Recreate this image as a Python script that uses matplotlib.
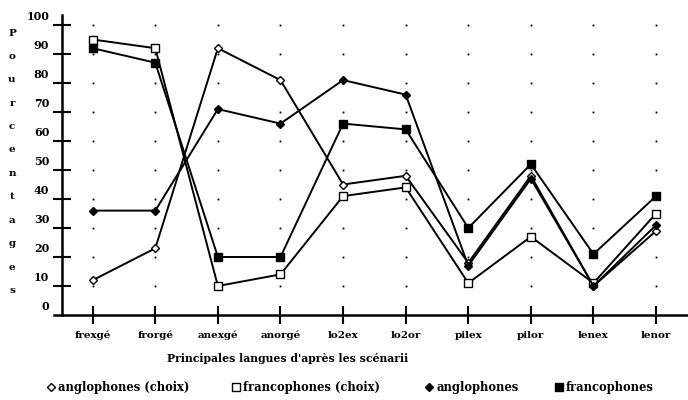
import matplotlib
matplotlib.use("Agg")
import matplotlib.pyplot as plt
import matplotlib.transforms as mtransforms
from matplotlib.lines import Line2D

# Données
categories = ["frexgé", "frorgé", "anexgé", "anorgé", "lo2ex",
              "lo2or", "pilex", "pilor", "lenex", "lenor"]
anglo_choix = [12, 23, 92, 81, 45, 48, 18, 48, 10, 29]
franco_choix = [95, 92, 10, 14, 41, 44, 11, 27, 11, 35]
anglo = [36, 36, 71, 66, 81, 76, 17, 47, 10, 31]
franco = [92, 87, 20, 20, 66, 64, 30, 52, 21, 41]
yticks = [10, 20, 30, 40, 50, 60, 70, 80, 90, 100]
ylabel_letters = list("Pourcentages")
xlabel = "Principales langues d'après les scénarii"
legend_labels = ["anglophones (choix)", "francophones (choix)", "anglophones", "francophones"]

plt.rcParams["font.family"] = "DejaVu Serif"
plt.rcParams["font.weight"] = "bold"

W, H = 688, 400
fig = plt.figure(figsize=(W / 100, H / 100), dpi=100)
ax = fig.add_axes([54 / W, (H - 315) / H, (W - 54) / W, 300 / H])

x = list(range(len(categories)))
ax.set_xlim(-0.618, 9.51)
ax.set_ylim(0, 103.45)

# points de grille
for xi in x:
    ax.plot([xi] * len(yticks), yticks, ls="none", marker="s", ms=1.3,
            color="black", mec="none", zorder=1)

style = dict(color="black", lw=1.4, zorder=3)
ax.plot(x, anglo_choix, marker="D", ms=4.5, mfc="white", mec="black", mew=1, **style)
ax.plot(x, franco_choix, marker="s", ms=5.5, mfc="white", mec="black", mew=1, **style)
ax.plot(x, anglo, marker="D", ms=4.5, mfc="black", mec="black", **style)
ax.plot(x, franco, marker="s", ms=6, mfc="black", mec="black", **style)

for s in ["top", "right"]:
    ax.spines[s].set_visible(False)
ax.spines["left"].set_position(("data", -0.495))
ax.spines["left"].set_linewidth(1.8)
ax.spines["bottom"].set_linewidth(1.8)

ax.set_xticks(x)
ax.set_xticklabels(categories, fontsize=7.5, fontweight="bold")
ax.tick_params(axis="x", direction="inout", length=13, width=1.5, pad=5)
ax.set_yticks([0] + yticks)
ax.set_yticklabels([str(v) for v in [0] + yticks], fontsize=8, fontweight="bold")
ax.tick_params(axis="y", direction="inout", length=13, width=1.5, pad=2.5)
ax.yaxis.get_major_ticks()[0].tick1line.set_visible(False)
offset = mtransforms.ScaledTranslation(0, 10 / 100, fig.dpi_scale_trans)
for lab in ax.get_yticklabels():
    lab.set_transform(lab.get_transform() + offset)

# titre vertical lettre par lettre
for i, ch in enumerate(ylabel_letters):
    fig.text(12 / W, 1 - (33 + i * 23.4) / H, ch, fontsize=7.5, fontweight="bold",
             ha="center", va="center")

fig.text(288 / W, 1 - 359 / H, xlabel, fontsize=7.8, fontweight="bold",
         ha="center", va="center")

# légende : une entrée par position
handles = [
    Line2D([], [], ls="none", marker="D", ms=4, mfc="white", mec="black"),
    Line2D([], [], ls="none", marker="s", ms=5.5, mfc="white", mec="black"),
    Line2D([], [], ls="none", marker="D", ms=4, mfc="black", mec="black"),
    Line2D([], [], ls="none", marker="s", ms=5.5, mfc="black", mec="black"),
]
legend_x = [46, 231, 424, 554]
for h, lab, lx in zip(handles, legend_labels, legend_x):
    fig.legend([h], [lab], loc="center left", bbox_to_anchor=(lx / W, 1 - 388 / H),
               frameon=False, fontsize=8.3, handlelength=0.8, handletextpad=0.25,
               borderaxespad=0, borderpad=0)

fig.savefig("out.png", dpi=100)
